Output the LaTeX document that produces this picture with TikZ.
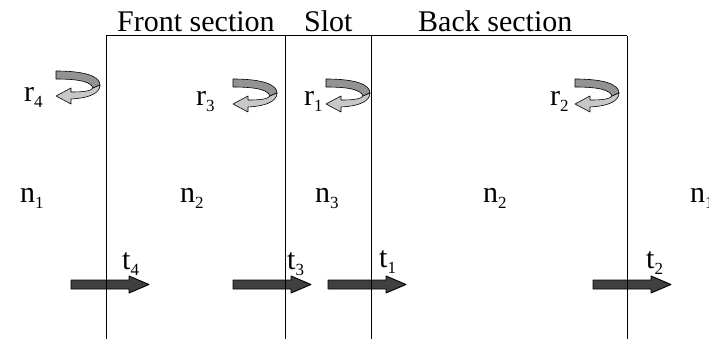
\documentclass[tikz,border=0pt]{standalone}
\usepackage{fontspec}
\setmainfont{Liberation Serif}
\newcommand\sublbl[2]{#1\raisebox{-6pt}{\fontsize{17}{17}\selectfont #2}}
\definecolor{arrowdark}{HTML}{404040}
\definecolor{ribbondark}{HTML}{939393}
\definecolor{ribbonlight}{HTML}{C8C8C8}
\begin{document}
\begin{tikzpicture}[x=1pt,y=-1pt,
  lbl/.style={anchor=base west,inner sep=0pt,font=\fontsize{30}{30}\selectfont},
  wall/.style={line width=1pt,black},
  fatarrow/.pic={\draw[fill=arrowdark,line width=0.9pt,line join=round]
     (0,-4.5) -- (58,-4.5) -- (58,-8.5) -- (78,0) -- (58,8.5) -- (58,4.5) -- (0,4.5) -- cycle;},
  twist/.pic={
     \draw[fill=ribbondark,line width=0.6pt,line join=round]
       (0,0) .. controls (28,0) and (44,5) .. (44,14) -- (37,17)
       .. controls (35,11) and (24,8) .. (0,8) -- cycle;
     \draw[fill=ribbonlight,line width=0.6pt,line join=round]
       (44,14) .. controls (44,22) and (34,27) .. (15,28) -- (15,33) -- (0,25)
       -- (15,17) -- (15,21) .. controls (28,21) and (35,20) .. (37,17) -- cycle;}
]
\useasboundingbox (0,0) rectangle (709,339);
% arrows (below the walls)
\pic at (71,284.5) {fatarrow};
\pic at (233,284.5) {fatarrow};
\pic at (328,284.5) {fatarrow};
\pic at (593,284.5) {fatarrow};
% curved arrows
\pic at (56,71) {twist};
\pic at (233,79) {twist};
\pic at (326,79) {twist};
\pic at (575,79) {twist};
% walls
\coordinate (w1t) at (106,36); \coordinate (w1b) at (106,339);
\coordinate (w2t) at (285,36); \coordinate (w2b) at (285,339);
\coordinate (w3t) at (371,36); \coordinate (w3b) at (371,339);
\coordinate (w4t) at (627,36); \coordinate (w4b) at (627,339);
\draw[wall] (w1t) -- (w4t);
\draw[wall] (w1t) -- (w1b);
\draw[wall] (w2t) -- (w2b);
\draw[wall] (w3t) -- (w3b);
\draw[wall] (w4t) -- (w4b);
% headers
\node[lbl] (front) at (117,32) {Front section};
\node[lbl] (slot) at (304,32) {Slot};
\node[lbl] (back) at (418,32) {Back section};
% refractive indices
\node[lbl] (n1l) at (20,202) {\sublbl{n}{1}};
\node[lbl] (n2l) at (180,202) {\sublbl{n}{2}};
\node[lbl] (n3) at (315,202) {\sublbl{n}{3}};
\node[lbl] (n2r) at (483,202) {\sublbl{n}{2}};
\node[lbl] (n1r) at (690,202) {\sublbl{n}{1}};
% reflection labels
\node[lbl] (r4) at (24,102) {\sublbl{r}{4}};
\node[lbl] (r3) at (196,106) {\sublbl{r}{3}};
\node[lbl] (r1) at (304,106) {\sublbl{r}{1}};
\node[lbl] (r2) at (550,106) {\sublbl{r}{2}};
% transmission labels
\node[lbl] (t4) at (122,269) {\sublbl{t}{4}};
\node[lbl] (t3) at (287,269) {\sublbl{t}{3}};
\node[lbl] (t1) at (379,267) {\sublbl{t}{1}};
\node[lbl] (t2) at (646,268) {\sublbl{t}{2}};
\end{tikzpicture}
\end{document}
